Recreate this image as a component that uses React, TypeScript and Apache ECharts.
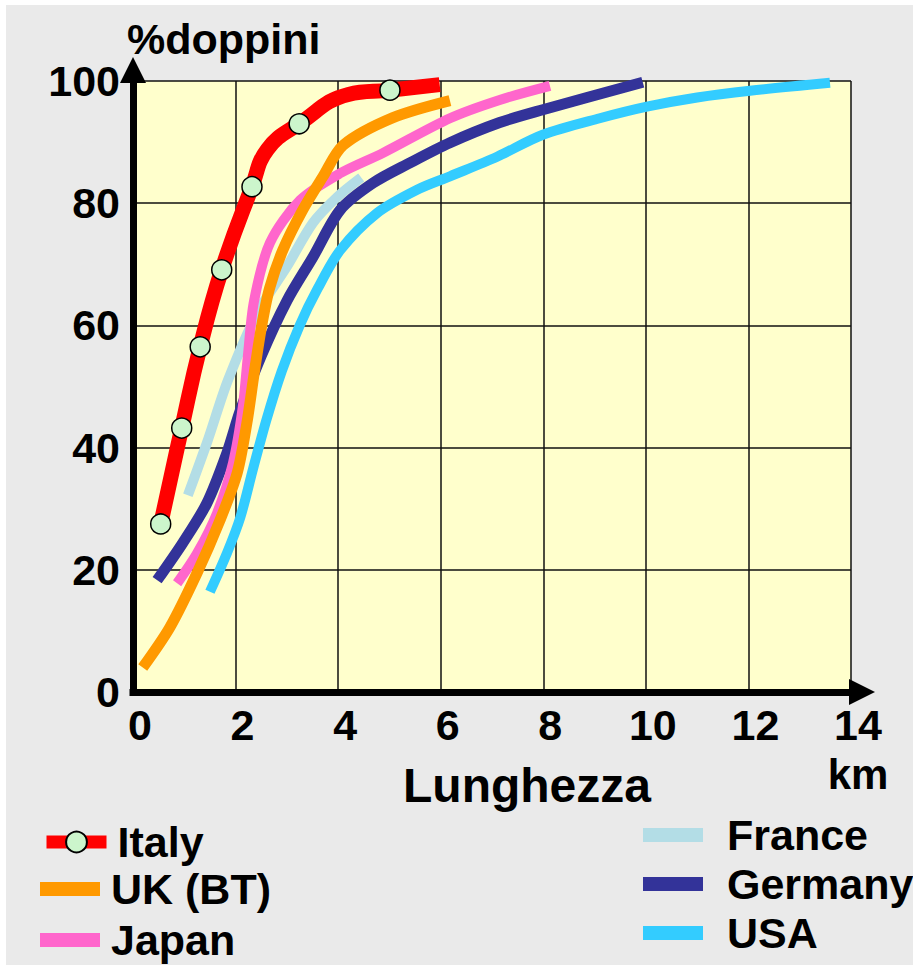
import React, { useEffect, useRef } from "react";
import * as echarts from "echarts";

// ---- data (km, % of pairs) ----
const xTickValues = [0, 2, 4, 6, 8, 10, 12, 14];
const yTickValues = [0, 20, 40, 60, 80, 100];

const italyMarked: [number, number][] = [
  [0.54, 27.5], [0.95, 43.2], [1.31, 56.5], [1.73, 69.1], [2.32, 82.7], [3.24, 93.0], [5.01, 98.5],
];
const italyUnmarked: [number, number][] = [
  [2.62, 88.8], [4.2, 97.8], [5.98, 99.4],
];
const ukBT: [number, number][] = [
  [0.19, 4], [0.72, 10.6], [1.25, 19.5], [1.7, 28.2], [2.03, 35.8], [2.22, 44], [2.36, 52],
  [2.5, 59.5], [2.66, 66], [2.92, 72.3], [3.31, 78.9], [3.7, 84.3], [4.1, 89.5], [5.07, 94], [6.18, 96.8],
];
const japan: [number, number][] = [
  [0.86, 17.8], [1.25, 22.7], [1.64, 29.3], [1.95, 37.5], [2.14, 46.6], [2.24, 55], [2.36, 64],
  [2.67, 73.5], [3.26, 80.5], [4.04, 84.9], [4.87, 88.2], [6.18, 93.9], [7.15, 96.9], [8.13, 99.2],
];
const france: [number, number][] = [
  [1.07, 32.2], [1.45, 41], [1.85, 51], [2.42, 62], [3.0, 69.6], [3.51, 76.8], [3.98, 81], [4.45, 84.2],
];
const germany: [number, number][] = [
  [0.47, 18.3], [0.97, 24.4], [1.44, 30.9], [1.83, 39.1], [2.09, 46], [2.5, 55], [3.0, 64],
  [3.51, 71.2], [4.04, 78.9], [4.68, 83.3], [5.4, 86.6], [6.18, 89.9], [7.15, 93.2], [7.99, 95.3], [9.94, 99.8],
];
const usa: [number, number][] = [
  [1.5, 16.4], [1.83, 22.7], [2.09, 28.5], [2.34, 36.5], [2.6, 44.5], [2.9, 52.5], [3.25, 60],
  [3.6, 66], [4.04, 72.3], [4.76, 78.4], [5.54, 82.2], [6.18, 84.4], [7.1, 87.6],
  [7.99, 91.2], [9.1, 93.9], [10.02, 95.8], [11.0, 97.3], [12.03, 98.4], [13.59, 99.7],
];

const names = ["Italy", "UK (BT)", "Japan", "France", "Germany", "USA"];
const xAxisTitle = "Lunghezza";
const xUnit = "km";
const yAxisTitle = "%doppini";

const FONT = '"Liberation Sans", Arial, Helvetica, sans-serif';

export default function App() {
  const ref = useRef<HTMLDivElement>(null);

  useEffect(() => {
    if (!ref.current) return;
    const chart = echarts.init(ref.current, null, { renderer: "svg" });

    const italyData = [
      ...italyMarked.map((p) => ({ value: p })),
      ...italyUnmarked.map((p) => ({ value: p, symbol: "none" })),
    ].sort((a, b) => a.value[0] - b.value[0]);

    const plain = (name: string, data: [number, number][], color: string, width: number) => ({
      name,
      type: "line",
      data,
      smooth: 0.3,
      symbol: "none",
      showSymbol: false,
      color,
      lineStyle: { color, width, cap: "butt", join: "round" },
      emphasis: { disabled: true },
      silent: true,
    });

    const labelFont = { fontFamily: FONT, fontWeight: "bold" as const, color: "#000" };
    const legendText = (padLeft: number) => ({
      ...labelFont,
      fontSize: 43,
      lineHeight: 46,
      padding: [0, 0, 0, padLeft],
    });

    chart.setOption({
      animation: false,
      backgroundColor: "#eaeaea",
      grid: {
        left: 127,
        right: 62,
        top: 76,
        bottom: 273,
        show: true,
        backgroundColor: "#ffffcc",
        borderWidth: 0,
      },
      xAxis: {
        type: "value",
        min: xTickValues[0],
        max: xTickValues[xTickValues.length - 1],
        interval: 2,
        axisLine: {
          show: true,
          onZero: false,
          symbol: ["none", "triangle"],
          symbolSize: [26, 26],
          symbolOffset: [0, 11],
          lineStyle: { color: "#000", width: 7, cap: "square" },
        },
        axisTick: { show: false },
        splitLine: { show: true, lineStyle: { color: "#111", width: 1.5 } },
        axisLabel: {
          ...labelFont,
          fontSize: 43,
          lineHeight: 43,
          margin: 11,
          padding: [0, 0, 0, 14],
          showMinLabel: true,
          showMaxLabel: true,
        },
      },
      yAxis: {
        type: "value",
        min: yTickValues[0],
        max: yTickValues[yTickValues.length - 1],
        interval: 20,
        axisLine: {
          show: true,
          onZero: false,
          symbol: ["none", "triangle"],
          symbolSize: [26, 26],
          symbolOffset: [0, 11],
          lineStyle: { color: "#000", width: 7, cap: "square" },
        },
        axisTick: { show: false },
        splitLine: { show: true, lineStyle: { color: "#111", width: 1.5 } },
        axisLabel: {
          ...labelFont,
          fontSize: 43,
          lineHeight: 43,
          margin: 13,
          showMinLabel: true,
          showMaxLabel: true,
        },
      },
      legend: [
        {
          data: [names[0]],
          orient: "vertical",
          left: 34,
          top: 814,
          padding: 0,
          itemWidth: 60,
          itemHeight: 26,
          selectedMode: false,
          lineStyle: { width: 13 },
          textStyle: legendText(6),
        },
        {
          data: [
            { name: names[1], icon: "rect" },
            { name: names[2], icon: "rect" },
          ],
          orient: "vertical",
          left: 34,
          top: 861,
          padding: 0,
          itemGap: 5,
          itemWidth: 60,
          itemHeight: 14,
          selectedMode: false,
          textStyle: legendText(6),
        },
        {
          data: [
            { name: names[3], icon: "rect" },
            { name: names[4], icon: "rect" },
            { name: names[5], icon: "rect" },
          ],
          orient: "vertical",
          left: 637,
          top: 807,
          padding: 0,
          itemGap: 3,
          itemWidth: 60,
          itemHeight: 14,
          selectedMode: false,
          textStyle: legendText(19),
        },
      ],
      graphic: [
        {
          type: "text",
          left: 121,
          top: 12,
          silent: true,
          style: { text: yAxisTitle, font: `bold 43px ${FONT}`, fill: "#000" },
        },
        {
          type: "text",
          x: 521,
          y: 780,
          silent: true,
          style: {
            text: xAxisTitle,
            font: `bold 48px ${FONT}`,
            fill: "#000",
            align: "center",
            verticalAlign: "middle",
          },
        },
        {
          type: "text",
          x: 852,
          y: 769,
          silent: true,
          style: {
            text: xUnit,
            font: `bold 42px ${FONT}`,
            fill: "#000",
            align: "center",
            verticalAlign: "middle",
          },
        },
      ],
      series: [
        plain(names[3], france, "#b3dde6", 10),
        plain(names[5], usa, "#33ccff", 10),
        plain(names[4], germany, "#333399", 11),
        plain(names[2], japan, "#ff66cc", 10),
        plain(names[1], ukBT, "#ff9900", 11),
        {
          name: names[0],
          type: "line",
          data: italyData,
          smooth: 0.45,
          symbol: "circle",
          symbolSize: 20,
          showSymbol: true,
          color: "#ff0000",
          lineStyle: { color: "#ff0000", width: 15, cap: "butt", join: "round" },
          itemStyle: { color: "#ccf5cc", borderColor: "#000", borderWidth: 1.5 },
          emphasis: { disabled: true },
          silent: true,
          z: 3,
        },
      ],
    });

    return () => chart.dispose();
  }, []);

  return (
    <div style={{ position: "absolute", left: 0, top: 0, width: 913, height: 965, background: "#ffffff" }}>
      <div ref={ref} style={{ position: "absolute", left: 6, top: 5, width: 907, height: 960 }} />
    </div>
  );
}
